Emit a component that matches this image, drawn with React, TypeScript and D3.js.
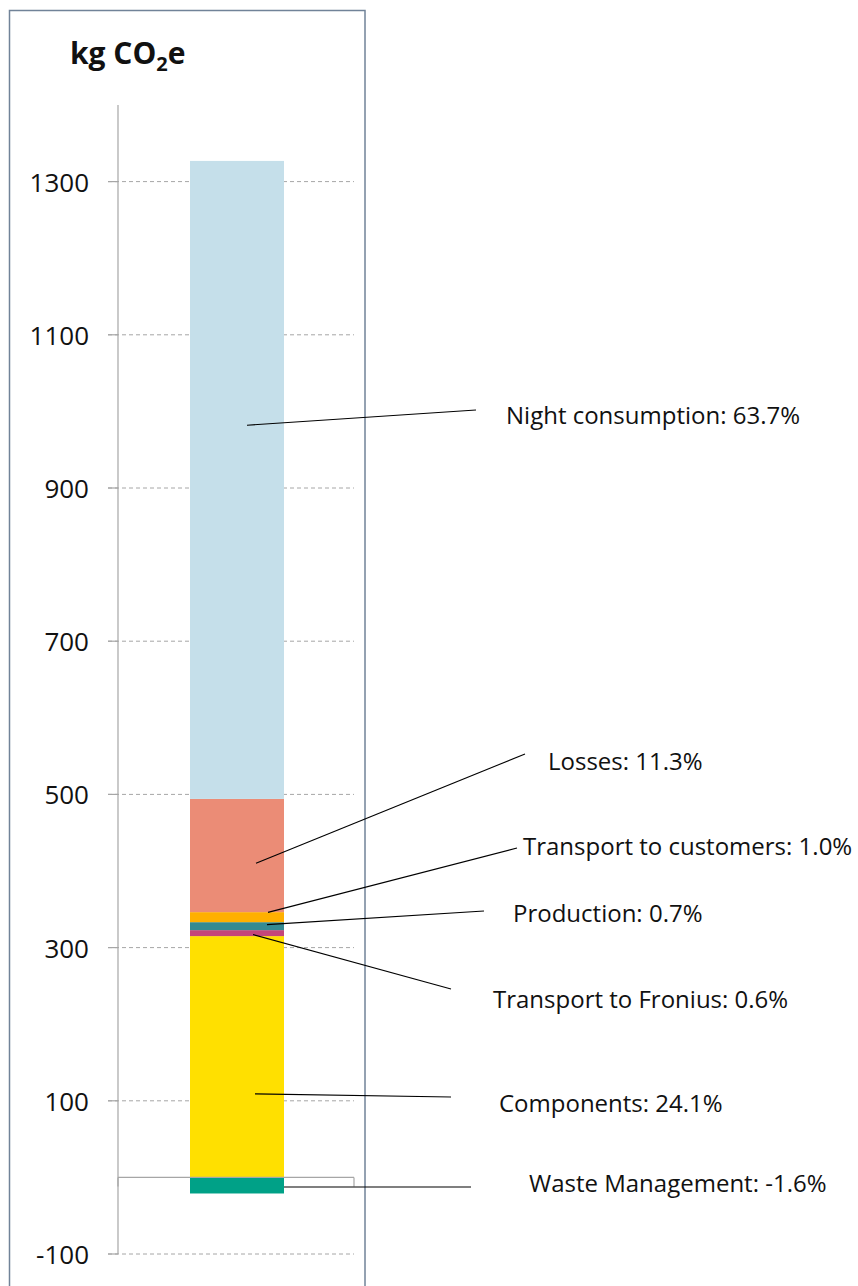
import React from "react";
import * as d3 from "d3";

const categories = [
  "Components",
  "Transport to Fronius",
  "Production",
  "Transport to customers",
  "Losses",
  "Night consumption",
];
const values = [315, 7.8, 10.4, 13.1, 147.8, 832.9];
const negCategory = "Waste Management";
const negValue = -21;
const percents: Record<string, string> = {
  "Night consumption": "63.7%",
  Losses: "11.3%",
  "Transport to customers": "1.0%",
  Production: "0.7%",
  "Transport to Fronius": "0.6%",
  Components: "24.1%",
  "Waste Management": "-1.6%",
};
const tickValues = [-100, 100, 300, 500, 700, 900, 1100, 1300];

const colors: Record<string, string> = {
  "Night consumption": "#c5dfea",
  Losses: "#eb8c76",
  "Transport to customers": "#ffb000",
  Production: "#348a91",
  "Transport to Fronius": "#c4467a",
  Components: "#ffe000",
  "Waste Management": "#00a187",
};

// label layout: leader start (x, value), leader end (x,y), text (x,y)
const labelLayout: Record<string, { sx: number; sv: number; ex: number; ey: number; tx: number; ty: number }> = {
  "Night consumption": { sx: 247, sv: 982, ex: 476, ey: 410, tx: 506, ty: 414 },
  Losses: { sx: 256, sv: 410, ex: 525, ey: 754, tx: 548, ty: 760 },
  "Transport to customers": { sx: 268, sv: 346, ex: 517, ey: 848, tx: 523, ty: 845 },
  Production: { sx: 267, sv: 330, ex: 484, ey: 911, tx: 513, ty: 912 },
  "Transport to Fronius": { sx: 253, sv: 317, ex: 451, ey: 989, tx: 493, ty: 998 },
  Components: { sx: 255, sv: 109, ex: 451, ey: 1097, tx: 499, ty: 1102 },
  "Waste Management": { sx: 284, sv: -12.5, ex: 471, ey: 1187, tx: 529, ty: 1182 },
};

export default function App() {
  const W = 858;
  const H = 1286;
  const y = d3.scaleLinear().domain([-100, 1400]).range([1254, 105]);
  const axisX = 118;
  const gridL = 108;
  const gridR = 354;
  const barL = 190;
  const barR = 284;

  let cum = 0;
  const segs = categories.map((c, i) => {
    const y0 = cum;
    cum += values[i];
    return { c, y0, y1: cum };
  });

  const font = "'Open Sans', 'Noto Sans', sans-serif";

  return (
    <div style={{ position: "absolute", left: 0, top: 0 }}>
      <svg width={W} height={H} style={{ display: "block" }}>
        <rect x={0} y={0} width={W} height={H} fill="#fff" />
        {/* border */}
        <rect x={9.5} y={10.5} width={355.5} height={H + 20} fill="none" stroke="#718398" strokeWidth={1.5} />
        {/* title */}
        <text x={70} y={64} fontFamily={font} fontWeight={700} fontSize={30} fill="#111">
          kg CO
          <tspan fontSize={20} dy={7}>2</tspan>
          <tspan dy={-7}>e</tspan>
        </text>
        {/* grid */}
        {tickValues.map((t) => (
          <g key={t}>
            <line x1={gridL} x2={gridR} y1={y(t)} y2={y(t)} stroke="#a6a6a6" strokeWidth={1} strokeDasharray="4,3" />
            <text
              x={89}
              y={y(t)}
              textAnchor="end"
              dominantBaseline="central"
              fontFamily={font}
              fontSize={26}
              fill="#111"
            >
              {t}
            </text>
          </g>
        ))}
        {/* axis */}
        <line x1={axisX} x2={axisX} y1={105} y2={y(-100)} stroke="#a6a6a6" strokeWidth={1.2} />
        {tickValues.map((t) => (
          <line key={"tk" + t} x1={gridL} x2={axisX} y1={y(t)} y2={y(t)} stroke="#a6a6a6" strokeWidth={1.2} />
        ))}
        {/* bars */}
        {segs.map((s) => (
          <rect
            key={s.c}
            x={barL}
            width={barR - barL}
            y={y(s.y1)}
            height={y(s.y0) - y(s.y1)}
            fill={colors[s.c]}
          />
        ))}
        <rect x={barL} width={barR - barL} y={y(0)} height={y(negValue) - y(0)} fill={colors[negCategory]} />
        {/* zero line */}
        <line x1={axisX} x2={gridR} y1={y(0)} y2={y(0)} stroke="#a6a6a6" strokeWidth={1.2} />
        <line x1={gridR} x2={gridR} y1={y(0)} y2={y(0) + 9} stroke="#a6a6a6" strokeWidth={1.2} />
        <line x1={axisX} x2={axisX} y1={y(0)} y2={y(0) + 9} stroke="#a6a6a6" strokeWidth={1.2} />
        {/* labels */}
        {[...categories, negCategory].map((c) => {
          const l = labelLayout[c];
          return (
            <g key={"lbl" + c}>
              <line x1={l.sx} y1={y(l.sv)} x2={l.ex} y2={l.ey} stroke="#000" strokeWidth={1.1} />
              <text x={l.tx} y={l.ty} dominantBaseline="central" fontFamily={font} fontSize={24} fill="#111">
                {c}: {percents[c]}
              </text>
            </g>
          );
        })}
      </svg>
    </div>
  );
}
